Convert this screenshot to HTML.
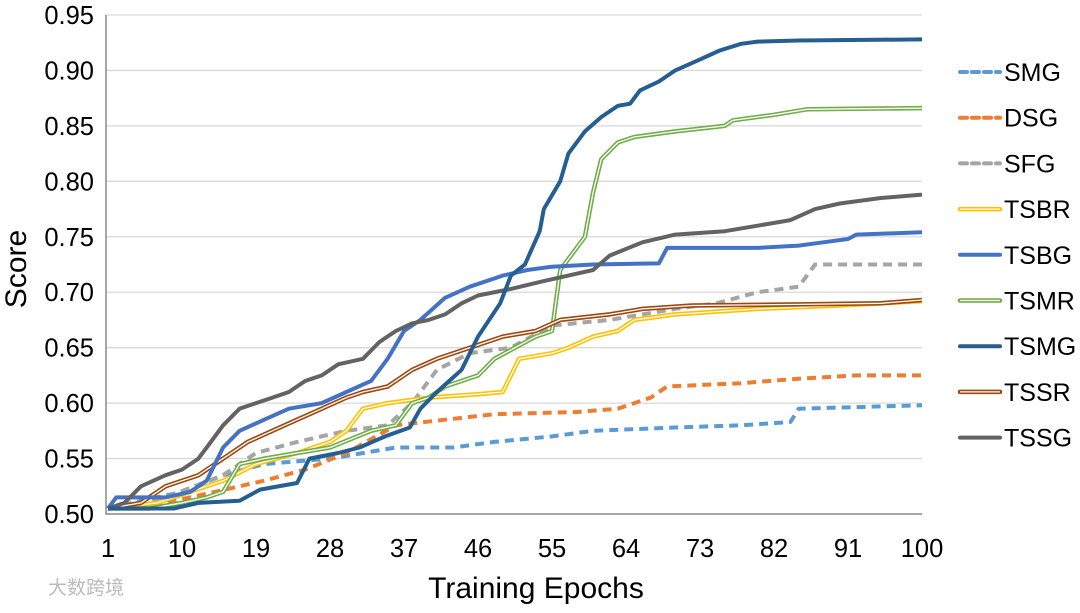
<!DOCTYPE html>
<html><head><meta charset="utf-8"><style>
body{margin:0;background:#fff;}
svg text{font-family:"Liberation Sans","Noto Sans CJK SC",sans-serif;}
</style></head><body>
<svg width="1080" height="608" viewBox="0 0 1080 608">
<g id="grid"></g>
<g id="yt"></g>
<g id="xt"></g>
<g id="series"></g>
<g id="legend"></g>
<text x="26" y="269" font-size="30" text-anchor="middle" transform="rotate(-90 26 269)">Score</text>
<text x="536" y="598" font-size="30" text-anchor="middle">Training Epochs</text>
<text x="48" y="594" font-size="19" fill="#bbb">大数跨境</text>
</svg>
<script>
const yTicks=[0.50,0.55,0.60,0.65,0.70,0.75,0.80,0.85,0.90,0.95];
const xTicks=[1,10,19,28,37,46,55,64,73,82,91,100];
const names=["SMG","DSG","SFG","TSBR","TSBG","TSMR","TSMG","TSSR","TSSG"];
const smgE=[1,10,15,20,28,36,43,48,55,60,70,78,84,85,95,100];
const smgV=[0.505,0.52,0.535,0.545,0.55,0.56,0.56,0.565,0.57,0.575,0.578,0.58,0.583,0.595,0.597,0.598];
const dsgE=[1,8,14,20,25,30,36,42,48,58,63,67,69,78,85,92,100];
const dsgV=[0.505,0.51,0.52,0.53,0.54,0.555,0.58,0.585,0.59,0.592,0.595,0.605,0.615,0.618,0.622,0.625,0.625];
const sfgE=[1,8,15,19,24,30,35,38,41,45,50,55,62,70,75,80,85,87,100];
const sfgV=[0.505,0.515,0.535,0.555,0.565,0.575,0.58,0.6,0.63,0.645,0.65,0.67,0.675,0.685,0.69,0.7,0.705,0.725,0.725];
const tsbrE=[1,7,11,15,19,24,28,30,32,35,40,46,49,51,55,57,60,63,65,70,80,90,100];
const tsbrV=[0.505,0.51,0.52,0.53,0.545,0.555,0.565,0.575,0.595,0.6,0.605,0.608,0.61,0.64,0.645,0.65,0.66,0.665,0.675,0.68,0.685,0.688,0.692];
const tsbgE=[1,2,8,11,13,15,17,20,23,27,30,33,35,37,39,42,45,49,52,55,60,68,69,80,85,88,91,92,100];
const tsbgV=[0.505,0.515,0.515,0.52,0.53,0.56,0.575,0.585,0.595,0.6,0.61,0.62,0.64,0.665,0.675,0.695,0.705,0.715,0.72,0.723,0.725,0.726,0.74,0.74,0.742,0.745,0.748,0.752,0.754];
const tsmrE=[1,6,10,13,15,17,20,24,28,33,36,38,40,42,46,48,53,55,56,59,60,61,63,65,70,76,77,82,86,100];
const tsmrV=[0.505,0.505,0.51,0.515,0.52,0.545,0.55,0.555,0.56,0.575,0.58,0.6,0.605,0.615,0.625,0.64,0.66,0.665,0.72,0.75,0.79,0.82,0.835,0.84,0.845,0.85,0.855,0.86,0.865,0.866];
const tsmgE=[1,9,12,17,19.5,24,25.5,29,31.6,34.7,37.7,39,41,44,46,48.7,50,51.7,53.5,54,56,57,59,61,63,64.5,65.7,68,70,73,75.4,78,80,85,100];
const tsmgV=[0.505,0.505,0.51,0.512,0.522,0.528,0.55,0.555,0.56,0.57,0.578,0.595,0.61,0.63,0.66,0.69,0.715,0.725,0.755,0.775,0.8,0.825,0.845,0.858,0.868,0.87,0.882,0.89,0.9,0.91,0.918,0.924,0.926,0.927,0.928];
const tssrE=[1,5,8,12,15,18,21,24,27,30,32,35,38,41,45,49,53,56,62,66,72,85,95,100];
const tssrV=[0.505,0.51,0.525,0.535,0.55,0.565,0.575,0.585,0.595,0.605,0.61,0.615,0.63,0.64,0.65,0.66,0.665,0.675,0.68,0.685,0.688,0.689,0.69,0.693];
const tssgE=[1,3,5,8,10,12,13,15,17,19,21,23,25,27,29,32,34,36,38,40,42,44,46,50,54,57,60,62,66,70,76,80,84,87,90,95,100];
const tssgV=[0.505,0.51,0.525,0.535,0.54,0.55,0.56,0.58,0.595,0.6,0.605,0.61,0.62,0.625,0.635,0.64,0.655,0.665,0.672,0.675,0.68,0.69,0.697,0.703,0.71,0.715,0.72,0.733,0.745,0.752,0.755,0.76,0.765,0.775,0.78,0.785,0.788];

const NS="http://www.w3.org/2000/svg";
const L=108,R=922,T=15,B=514;
const xS=e=>L+(e-1)*(R-L)/99;
const yS=v=>B-(v-0.5)/0.45*(B-T);
function mk(t,a,p){const el=document.createElementNS(NS,t);for(const k in a)el.setAttribute(k,a[k]);p.appendChild(el);return el;}
const grid=document.getElementById('grid');
yTicks.forEach((v,i)=>{
  if(i>0){const g=mk('line',{x1:L-2,x2:R,y1:yS(v),y2:yS(v),stroke:'#d9d9d9','stroke-width':1.3},grid);
  
  }
  const t=mk('text',{x:94,y:yS(v)+9,'font-size':25.5,'text-anchor':'end'},document.getElementById('yt'));
  t.textContent=v.toFixed(2);
  
  
});
const ax=mk('path',{d:`M${L-2} ${T} V${B} H${R}`,fill:'none',stroke:'#888','stroke-width':1.5},grid);


xTicks.forEach(e=>{
  const t=mk('text',{x:xS(e),y:557,'font-size':25.5,'text-anchor':'middle'},document.getElementById('xt'));
  t.textContent=e;
  
  
});
const styles={
 SMG:{c:'#5B9BD5',dash:'9 6'},DSG:{c:'#ED7D31',dash:'9 6'},SFG:{c:'#A5A5A5',dash:'9 6'},
 TSBR:{c:'#FFC000',dbl:1},TSBG:{c:'#4472C4'},TSMR:{c:'#70AD47',dbl:1},
 TSMG:{c:'#255E91'},TSSR:{c:'#9E480E',dbl:1},TSSG:{c:'#636363'}};
const data={SMG:[smgE,smgV],DSG:[dsgE,dsgV],SFG:[sfgE,sfgV],TSBR:[tsbrE,tsbrV],TSBG:[tsbgE,tsbgV],TSMR:[tsmrE,tsmrV],TSMG:[tsmgE,tsmgV],TSSR:[tssrE,tssrV],TSSG:[tssgE,tssgV]};
const sg=document.getElementById('series');
const order=["SMG","DSG","SFG","TSBR","TSMR","TSSR","TSBG","TSSG","TSMG"];
order.forEach(n=>{
  const [E,V]=data[n];const s=styles[n];
  const pts=E.map((e,i)=>xS(e).toFixed(1)+','+yS(V[i]).toFixed(1)).join(' ');
  const g=mk('g',{},sg);
  
  
  const a={points:pts,fill:'none',stroke:s.c,'stroke-width':s.dbl?4.5:4,'stroke-linejoin':'round'};
  if(s.dash)a['stroke-dasharray']=s.dash;
  mk('polyline',a,g);
  if(s.dbl)mk('polyline',{points:pts,fill:'none',stroke:'#fff','stroke-width':1.3,'stroke-linejoin':'round'},g);
});
const lg=document.getElementById('legend');
names.forEach((n,i)=>{
  const y=72+i*45.7;const s=styles[n];
  const g=mk('g',{},lg);
  
  
  const a={x1:960,x2:1000,y1:y,y2:y,stroke:s.c,'stroke-width':s.dbl?4.5:4,'stroke-linecap':'round'};
  if(s.dash)a['stroke-dasharray']='7 5';
  mk('line',a,g);
  if(s.dbl)mk('line',{x1:960,x2:1000,y1:y,y2:y,stroke:'#fff','stroke-width':1.3},g);
  const t=mk('text',{x:1004,y:y+9,'font-size':25},g);
  t.textContent=n;
});
</script>
</body></html>
